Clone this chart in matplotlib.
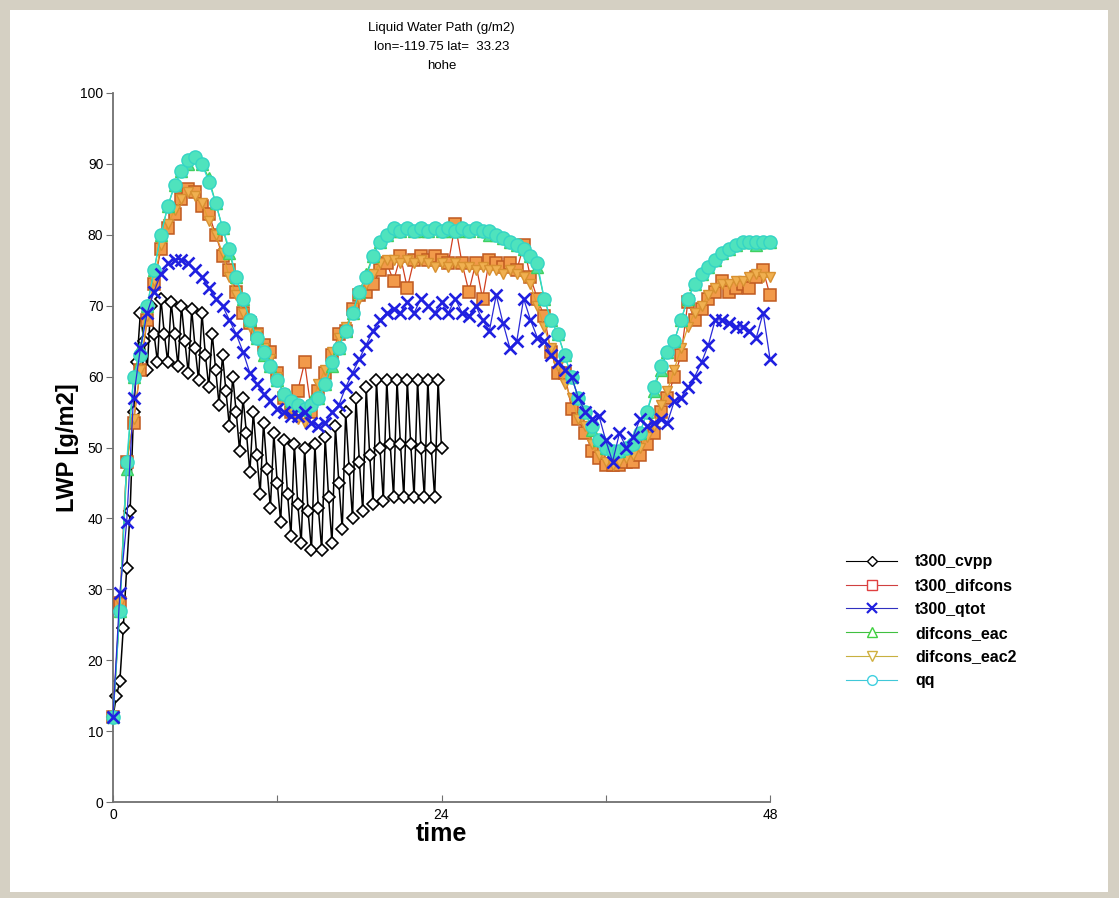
import matplotlib
matplotlib.use('Agg')
import matplotlib.pyplot as plt
from matplotlib.lines import Line2D
from matplotlib.patches import Rectangle
import numpy as np

# ---------------- data ----------------
title_lines = ["Liquid Water Path (g/m2)", "lon=-119.75 lat=  33.23", "hohe"]
series_names = ["t300_cvpp", "t300_difcons", "t300_qtot", "difcons_eac", "difcons_eac2", "qq"]
x_ticks = [0, 12, 24, 36, 48]
x_ticklabels = ["0", "", "24", "", "48"]
y_ticks = [0, 10, 20, 30, 40, 50, 60, 70, 80, 90, 100]

# time axes (hours)
time_cvpp = np.arange(0, 24.001, 0.25)     # 97 values
time_other = np.arange(0, 48.001, 0.5)     # 97 values

t300_cvpp = [
    12, 15, 17, 24.5, 33, 41, 55, 62,
    69, 65, 61,   70, 66, 62,   71, 66, 62,   70.5, 66, 61.5,
    70, 65, 60.5, 69.5, 64, 59.5, 69, 63, 58.5, 66, 61, 56,
    63, 58, 53,   60, 55, 49.5, 57, 52, 46.5, 55, 49, 43.5,
    53.5, 47, 41.5, 52, 45, 39.5, 51, 43.5, 37.5, 50.5, 42, 36.5,
    50, 41, 35.5, 50.5, 41.5, 35.5, 51.5, 43, 36.5, 53, 45, 38.5,
    55, 47, 40,   57, 48, 41,   58.5, 49, 42,  59.5, 50, 42.5,
    59.5, 50.5, 43, 59.5, 50.5, 43, 59.5, 50.5, 43, 59.5, 50, 43,
    59.5, 50, 43, 59.5, 50,
]

t300_difcons = [
    12, 28, 48, 53.5, 61, 68, 73, 78, 81, 83,
    85, 86.5, 86, 84, 83, 80, 77, 75, 72, 69,
    67.5, 66, 64.5, 63.5, 60.5, 57, 55, 58, 62, 55,
    58, 60.5, 63, 66, 66.5, 69.5, 71.5, 72, 73, 75,
    76, 73.5, 77, 72.5, 76.5, 77, 76.5, 77, 76.5, 76,
    81.5, 76, 72, 76, 71, 76.5, 76, 75.5, 76, 75,
    78.5, 74, 71, 68.5, 63.5, 60.5, 60.5, 55.5, 54, 52,
    49.5, 48.5, 47.5, 47.5, 47.5, 48, 48, 49, 50.5, 52,
    55, 57, 60, 63, 70.5, 68, 69.5, 71, 72, 73.5,
    72, 72.5, 73, 72.5, 74, 75, 71.5,
]

t300_qtot = [
    12, 29.5, 39.5, 57, 64, 69, 72, 74.5, 76, 76.5,
    76.5, 76, 75, 74, 72.5, 71, 70, 68, 66, 63.5,
    60.5, 59, 57.5, 56.5, 55.5, 55, 54.5, 54.5, 55, 53.5,
    53, 53.5, 55, 56, 58.5, 60.5, 62.5, 64.5, 66.5, 68,
    69, 69.5, 69, 70.5, 69, 71, 70, 69, 70.5, 69,
    71, 69, 68.5, 70, 68, 66.5, 71.5, 67.5, 64, 65,
    71, 68, 65.5, 65, 63, 62, 61, 60, 57, 55,
    54, 54.5, 51, 48, 52, 50, 51.5, 54, 53, 53.5,
    54, 53.5, 56.5, 57, 58.5, 60, 62, 64.5, 68, 68,
    67.5, 67, 67, 66.5, 65.5, 69, 62.5,
]

difcons_eac = [
    12, 27, 47, 60, 64, 70, 75, 80, 84, 87,
    89, 90, 91, 90, 88, 84.5, 81, 77.5, 74, 71,
    68, 65.5, 63, 61.5, 59.5, 57.5, 56.5, 56, 55.5, 56.5,
    57, 59, 61.5, 64, 66.5, 69, 72, 74.5, 77, 79,
    80, 80.5, 80.5, 81, 80.5, 80.5, 80.5, 81, 80.5, 80.5,
    80.5, 80.5, 80.5, 81, 80.5, 80, 80, 79.5, 79, 78.5,
    78, 77, 75.5, 71, 68, 66, 63, 60, 57, 55,
    52.5, 51, 50, 49.5, 49.5, 50, 51, 52, 55, 58,
    61, 63.5, 65, 68, 71, 73, 74.5, 75.5, 76.5, 77.5,
    78, 78.5, 79, 79, 78.5, 79, 79,
]

difcons_eac2 = [
    12, 28, 48, 54, 61, 68.5, 73.5, 78.5, 81.5, 83.5,
    85, 86, 85.5, 84.5, 82, 80, 77.5, 74, 71.5, 69,
    67, 66, 64, 62.5, 60, 57.5, 55.5, 54, 53.5, 56,
    59, 61, 63.5, 65.5, 67, 69, 71, 73, 74.5, 76,
    76.5, 76.5, 76, 76.5, 76, 76.5, 76, 75.5, 76, 75.5,
    76, 75.5, 75.5, 75, 75.5, 75, 75, 74.5, 75, 74.5,
    74, 73, 70, 67, 64, 61.5, 59, 57, 54, 53,
    50.5, 49, 48, 47.5, 48, 48.5, 49, 50, 51.5, 53,
    56, 58, 61, 64, 67, 69, 70, 71.5, 72.5, 73,
    73, 73.5, 73.5, 74, 74.5, 74, 74,
]

qq = [
    12, 27, 48, 60, 63, 70, 75, 80, 84, 87,
    89, 90.5, 91, 90, 87.5, 84.5, 81, 78, 74, 71,
    68, 65.5, 63.5, 61.5, 59.5, 57.5, 56.5, 56, 55.5, 56,
    57, 59, 62, 64, 66.5, 69, 72, 74, 77, 79,
    80, 81, 80.5, 81, 80.5, 81, 80.5, 81, 80.5, 81,
    80.5, 81, 80.5, 81, 80.5, 80.5, 80, 79.5, 79, 78.5,
    78, 77, 76, 71, 68, 66, 63, 60, 57, 55,
    53, 51, 50, 49.5, 49.5, 50, 50.5, 52, 55, 58.5,
    61.5, 63.5, 65, 68, 71, 73, 74.5, 75.5, 76.5, 77.5,
    78, 78.5, 79, 79, 79, 79, 79,
]

# ---------------- figure ----------------
W, H = 1119, 898
fig = plt.figure(figsize=(W / 100, H / 100), dpi=100, facecolor='#d5d0c3')
fig.patches.append(Rectangle((10 / W, 6 / H), 1098 / W, 882 / H, transform=fig.transFigure,
                             facecolor='white', edgecolor='none', zorder=-10))

fam = ['Liberation Sans Narrow', 'Liberation Sans', 'DejaVu Sans']
plt.rcParams['font.family'] = fam

ax = fig.add_axes([113 / W, (H - 802) / H, (770 - 113) / W, (802 - 93) / H])
ax.set_zorder(1)
ax.set_facecolor('white')
ax.set_xlim(0, 48)
ax.set_ylim(0, 100)

lw = 0.9
ax.plot(time_cvpp, t300_cvpp, color='black', lw=1.1, marker='D', ms=6,
        mfc='white', mec='black', mew=1.2, zorder=2, clip_on=False)
ax.plot(time_other, t300_difcons, color='#d04020', lw=lw, marker='s', ms=8,
        mfc='#f29a4a', mec='#c05a20', mew=1.1, zorder=3, clip_on=False)
ax.plot(time_other, difcons_eac2, color='#e0a030', lw=lw, marker='v', ms=7,
        mfc='#f0b050', mec='#d89030', mew=1.0, zorder=4, clip_on=False)
ax.plot(time_other, difcons_eac, color='#40d050', lw=lw, marker='^', ms=8,
        mfc='#50e0a0', mec='#40d060', mew=1.0, zorder=5, clip_on=False)
ax.plot(time_other, qq, color='#30d8d8', lw=lw, marker='o', ms=9.5,
        mfc='#4fe3bd', mec='#35d5c5', mew=1.0, zorder=6, clip_on=False)
ax.plot(time_other, t300_qtot, color='#2a2ad8', lw=lw, marker='x', ms=8,
        mec='#2020e0', mew=1.9, zorder=7, clip_on=False)

for s in ['top', 'right']:
    ax.spines[s].set_visible(False)
for s in ['left', 'bottom']:
    ax.spines[s].set_color('#707070')
    ax.spines[s].set_linewidth(1.3)

ax.set_xticks(x_ticks)
ax.set_xticklabels(x_ticklabels)
ax.set_yticks(y_ticks)
ax.tick_params(axis='x', direction='in', length=5, color='#707070', labelsize=10, pad=4)
ax.tick_params(axis='y', direction='out', length=5, color='#707070', labelsize=10, pad=2)

ax.set_xlabel('time', fontsize=18, fontweight='bold', family=['Liberation Sans', 'DejaVu Sans'], labelpad=0)
ax.set_ylabel('LWP [g/m2]', fontsize=17, fontweight='bold', family=['Liberation Sans', 'DejaVu Sans'], labelpad=1)

cx = (113 + 770) / 2 / W
for i, line in enumerate(title_lines):
    fig.text(cx, 1 - (28 + 19 * i) / H, line, ha='center', va='center', fontsize=9.5)

handles = [
    Line2D([], [], color='black', lw=0.8, marker='D', ms=5, mfc='white', mec='black'),
    Line2D([], [], color='#d04040', lw=0.8, marker='s', ms=7, mfc='white', mec='#e04040'),
    Line2D([], [], color='#3030c0', lw=0.8, marker='x', ms=7, mec='#2020e0', mew=1.6),
    Line2D([], [], color='#40c040', lw=0.8, marker='^', ms=7, mfc='white', mec='#40d040'),
    Line2D([], [], color='#c8b040', lw=0.8, marker='v', ms=7, mfc='white', mec='#d0b040'),
    Line2D([], [], color='#40c8d8', lw=0.8, marker='o', ms=7, mfc='white', mec='#40d0e0'),
]
fig.legend(handles, series_names, loc='upper left', bbox_to_anchor=(832 / W, 1 - 540 / H),
           frameon=False, handlelength=3.2, labelspacing=0.55, handletextpad=1.1,
           prop={'family': ['Liberation Sans', 'DejaVu Sans'], 'weight': 'bold', 'size': 11.5})

fig.savefig('out.png', dpi=100, facecolor=fig.get_facecolor())
